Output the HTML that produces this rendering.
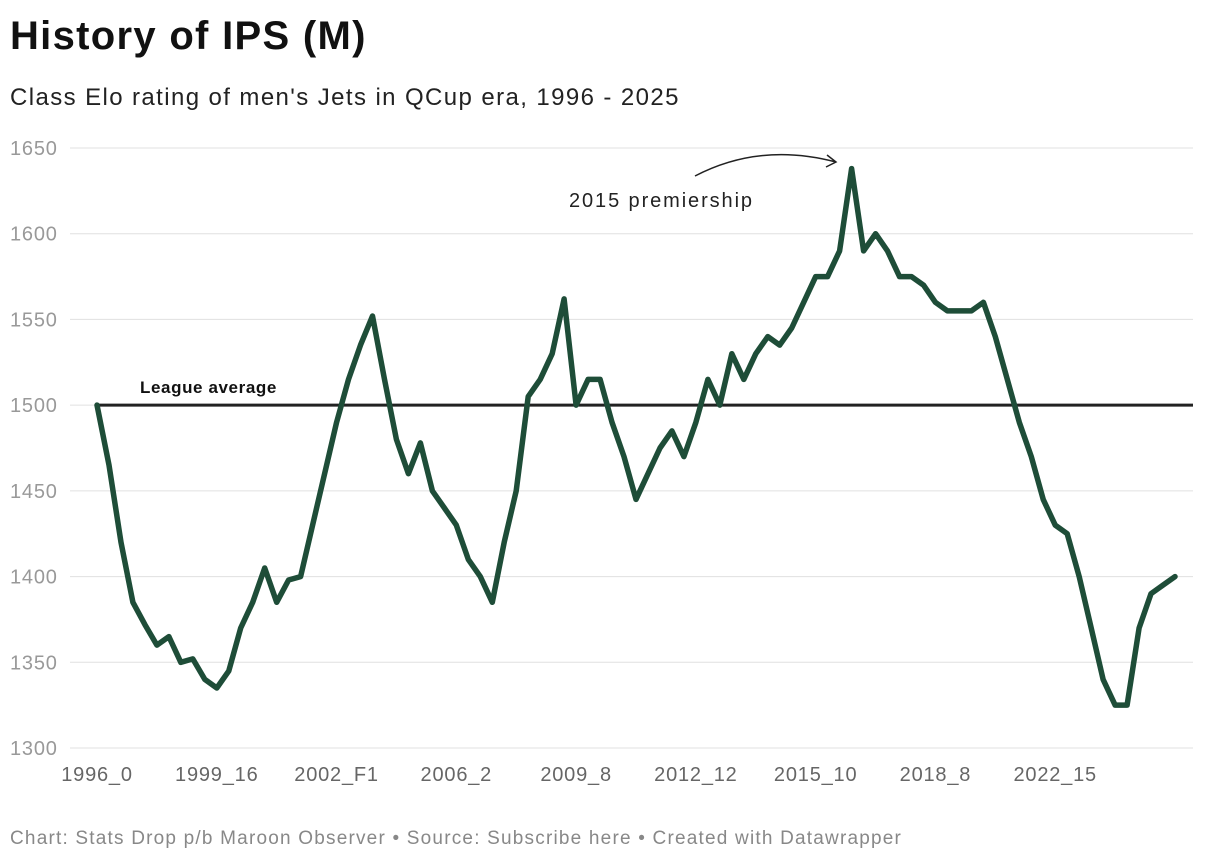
<!DOCTYPE html>
<html><head><meta charset="utf-8">
<style>
body{margin:0;background:#fff;font-family:"Liberation Sans",Arial,sans-serif;}
#wrap{position:relative;width:1220px;height:864px;overflow:hidden;}
h1{position:absolute;left:10px;top:14px;margin:0;font-size:40px;font-weight:bold;color:#111;letter-spacing:1.3px;}
.sub{position:absolute;left:10px;top:84px;font-size:24px;color:#222;letter-spacing:1.4px;}
.foot{position:absolute;left:10px;top:828px;font-size:19px;color:#888;letter-spacing:1.2px;}
svg{position:absolute;left:0;top:0;}
</style></head><body>
<div id="wrap">
<h1>History of IPS (M)</h1>
<div class="sub">Class Elo rating of men's Jets in QCup era, 1996 - 2025</div>
<svg id="chart" width="1220" height="864"></svg>
<div class="foot">Chart: Stats Drop p/b Maroon Observer • Source: Subscribe here • Created with Datawrapper</div>
</div>
<script>
const elo = [1500,1465,1420,1385,1372,1360,1365,1350,1352,1340,1335,1345,1370,1385,1405,1385,1398,1400,1430,1460,1490,1515,1535,1552,1515,1480,1460,1478,1450,1440,1430,1410,1400,1385,1420,1450,1505,1515,1530,1562,1500,1515,1515,1490,1470,1445,1460,1475,1485,1470,1490,1515,1500,1530,1515,1530,1540,1535,1545,1560,1575,1575,1590,1638,1590,1600,1590,1575,1575,1570,1560,1555,1555,1555,1560,1540,1515,1490,1470,1445,1430,1425,1400,1370,1340,1325,1325,1370,1390,1395,1400];
const xTickLabels = ["1996_0","1999_16","2002_F1","2006_2","2009_8","2012_12","2015_10","2018_8","2022_15"];
const xTickIndex = [0,10,20,30,40,50,60,70,80];
const yTicks = [1300,1350,1400,1450,1500,1550,1600,1650];
const leagueAvg = 1500;

const NS="http://www.w3.org/2000/svg";
const svg=document.getElementById('chart');
const x0=97, x1=1175, yTop=148, yBot=748;
const xs=i=>x0+(x1-x0)*i/(elo.length-1);
const ys=v=>yBot-(v-1300)/(1650-1300)*(yBot-yTop);
function mk(t,a){const e=document.createElementNS(NS,t);for(const k in a)e.setAttribute(k,a[k]);svg.appendChild(e);return e;}

yTicks.forEach(v=>{
  const l=mk('line',{x1:70,x2:1193,y1:ys(v),y2:ys(v),stroke:'#e0e0e0','stroke-width':1});
  
  
  const t=mk('text',{x:10,y:ys(v)+7,'font-size':20,fill:'#999','letter-spacing':0.8});
  t.textContent=v;
  
  
});
xTickIndex.forEach((ix,k)=>{
  const t=mk('text',{x:xs(ix),y:781,'font-size':20,fill:'#666','text-anchor':'middle','letter-spacing':0.8});
  t.textContent=xTickLabels[k];
  
  
});
const avg=mk('line',{x1:95,x2:1193,y1:ys(leagueAvg),y2:ys(leagueAvg),stroke:'#222','stroke-width':3});


const at=mk('text',{x:140,y:ys(leagueAvg)-12,'font-size':17,'font-weight':'bold',fill:'#111','letter-spacing':0.6});
at.textContent='League average';



const d=elo.map((v,i)=>(i?'L':'M')+xs(i).toFixed(1)+','+ys(v).toFixed(1)).join(' ');
const p=mk('path',{d:d,fill:'none',stroke:'#1e4d38','stroke-width':5.5,'stroke-linejoin':'round','stroke-linecap':'round'});



const an=mk('text',{x:569,y:207,'font-size':20,fill:'#222','letter-spacing':1.9});
an.textContent='2015 premiership';


const ar=mk('path',{d:'M695,176 Q760,142 836,162 M827,155 L836,162 L826,167',fill:'none',stroke:'#222','stroke-width':1.5});


</script>
</body></html>
